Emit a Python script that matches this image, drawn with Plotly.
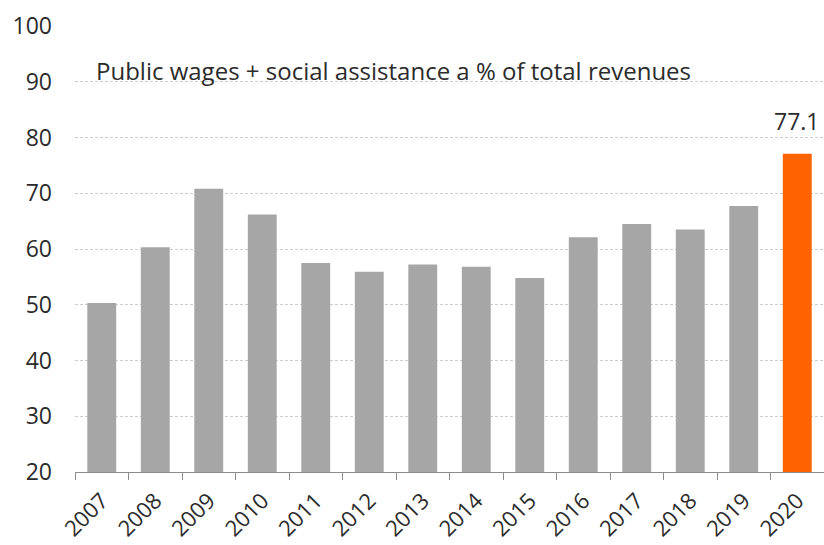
import plotly.graph_objects as go

# Public wages + social assistance as a share of total revenues (%)
years = ["2007", "2008", "2009", "2010", "2011", "2012", "2013",
         "2014", "2015", "2016", "2017", "2018", "2019", "2020"]
share = [50.3, 60.3, 70.8, 66.2, 57.5, 55.9, 57.2,
         56.8, 54.8, 62.1, 64.5, 63.5, 67.7, 77.1]

grey = "#a6a6a6"
orange = "#ff6200"
colors = [orange if y == years[-1] else grey for y in years]

FONT = "Open Sans"
TXT = "#2b2b2b"

fig = go.Figure()
fig.add_trace(go.Bar(
    x=years, y=share,
    marker=dict(color=colors, line=dict(width=0)),
    hoverinfo="x+y",
))

# Value label over the latest year (category index of the last bar)
last = len(years) - 1
fig.add_annotation(
    x=last, y=share[last], text=f"{share[last]:.1f}",
    showarrow=False, yanchor="bottom", yshift=15,
    font=dict(family=FONT, size=23, color=TXT),
)

# Chart caption inside the plot area
fig.add_annotation(
    xref="paper", yref="y", x=0.026, y=92.0,
    xanchor="left", yanchor="middle",
    text="Public wages + social assistance a % of total revenues",
    showarrow=False,
    font=dict(family=FONT, size=24, color=TXT),
)

fig.update_layout(
    width=824, height=545,
    margin=dict(l=75, r=0, t=26, b=73),
    paper_bgcolor="white", plot_bgcolor="white",
    bargap=0.46,
    showlegend=False,
    font=dict(family=FONT, color=TXT),
)
fig.update_xaxes(
    type="category", automargin=False,
    showline=True, linecolor="#8c8c8c", linewidth=1.2,
    ticks="outside", tickson="boundaries", ticklen=7,
    tickcolor="#8c8c8c", tickwidth=1.2,
    tickangle=-45, ticklabelstandoff=6,
    tickfont=dict(family=FONT, size=22, color=TXT),
    showgrid=False,
)
fig.update_yaxes(
    range=[20, 100], dtick=10, automargin=False,
    showline=False, zeroline=False,
    showgrid=True, gridcolor="#cccccc", griddash="3px,2px", gridwidth=1,
    ticks="", ticklabelstandoff=22,
    tickfont=dict(family=FONT, size=23, color=TXT),
)

fig.write_html("out.html")
